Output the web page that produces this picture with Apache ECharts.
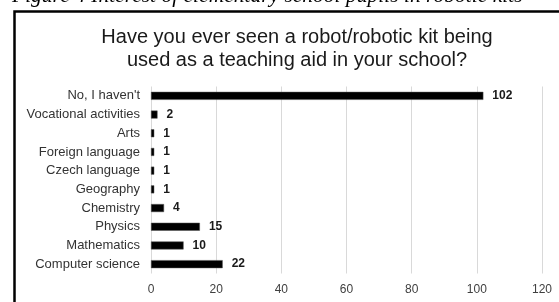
<!DOCTYPE html>
<html>
<head>
<meta charset="utf-8">
<script src="https://cdn.jsdelivr.net/npm/echarts@6/dist/echarts.min.js"></script>
<style>html,body{margin:0;padding:0;background:#fff;}#c{width:559px;height:302px;}</style>
</head>
<body>
<div id="c"></div>
<script>
const categories = ["No, I haven't", "Vocational activities", "Arts", "Foreign language", "Czech language", "Geography", "Chemistry", "Physics", "Mathematics", "Computer science"];
const values = [102, 2, 1, 1, 1, 1, 4, 15, 10, 22];
const xTicks = [0, 20, 40, 60, 80, 100, 120];
const titleText = "Have you ever seen a robot/robotic kit being\nused as a teaching aid in your school?";
const captionText = "Figure 4 Interest of elementary school pupils in robotic kits";

const chart = echarts.init(document.getElementById('c'), null, {renderer: 'canvas'});
chart.setOption({
  animation: false,
  backgroundColor: '#fff',
  title: {
    text: titleText,
    left: 292, top: 21, textAlign: 'center',
    textStyle: {fontFamily: 'Liberation Sans', fontSize: 20, fontWeight: 'normal', color: '#1a1a1a', lineHeight: 23}
  },
  graphic: [
    {type: 'text', x: 12, y: -4, style: {text: captionText, font: 'italic 21.5px "Liberation Serif"', fill: '#000', verticalAlign: 'middle', align: 'left'}},
    {type: 'rect', shape: {x: 14.5, y: 11.5, width: 600, height: 320}, style: {fill: 'none', stroke: '#000', lineWidth: 2.5}}
  ],
  grid: {left: 151, right: 17, top: 86.5, bottom: 28.5, containLabel: false},
  xAxis: {
    type: 'value', min: 0, max: 120, interval: 20,
    axisLine: {show: false}, axisTick: {show: false},
    splitLine: {lineStyle: {color: '#d9d9d9', width: 1}},
    axisLabel: {fontFamily: 'Liberation Sans', fontSize: 12, color: '#404040', margin: 10,
      formatter: v => xTicks.includes(v) ? String(v) : ''}
  },
  yAxis: {
    type: 'category', data: categories, inverse: true,
    axisLine: {show: false}, axisTick: {show: false},
    axisLabel: {fontFamily: 'Liberation Sans', fontSize: 13, color: '#333', margin: 11}
  },
  series: [{
    type: 'bar', data: values, barWidth: 8,
    itemStyle: {color: '#000', borderColor: '#555', borderWidth: 0.5},
    label: {show: true, position: 'right', distance: 9, fontFamily: 'Liberation Sans', fontSize: 12, fontWeight: 'bold', color: '#1a1a1a'}
  }]
});
</script>
</body>
</html>
